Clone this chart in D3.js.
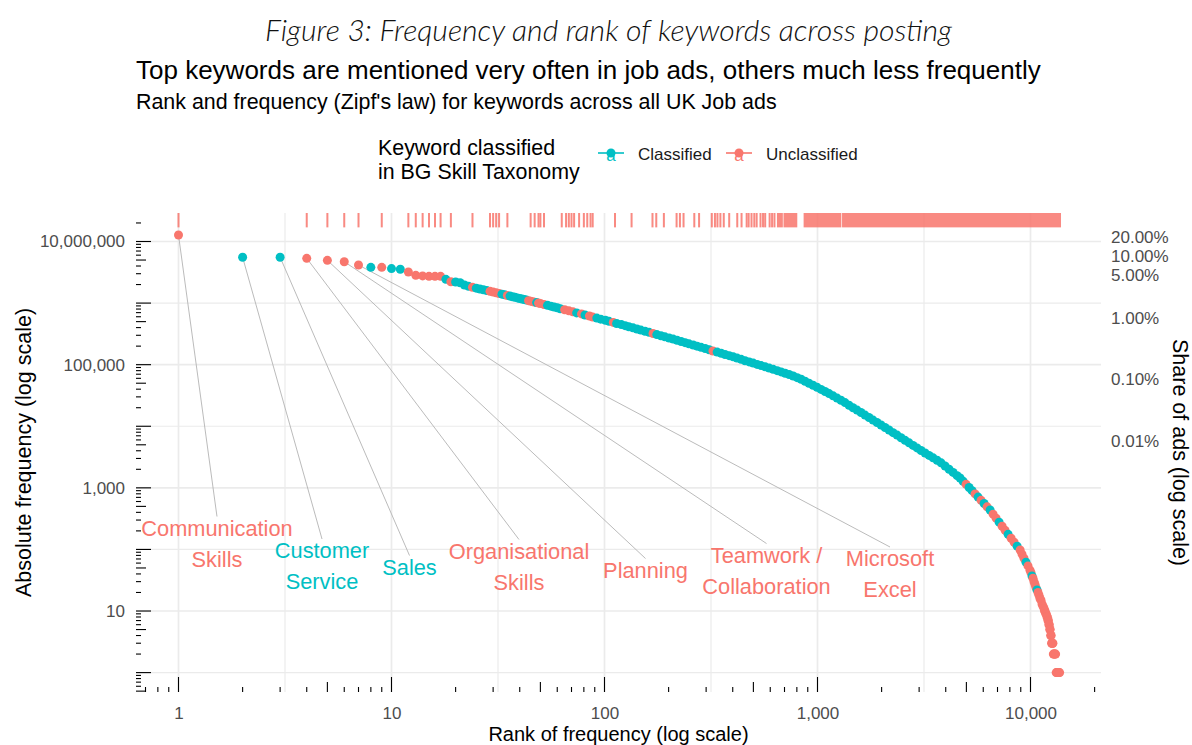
<!DOCTYPE html>
<html><head><meta charset="utf-8">
<script src="https://cdn.jsdelivr.net/npm/d3@7"></script>
<style>
body{margin:0;background:#fff;}
svg{display:block;font-family:"Liberation Sans",Arial,Helvetica,sans-serif;}
</style></head><body>
<svg id="chart" width="1192" height="745"></svg>
<script>
// ---------------- DATA ----------------
const ranks = [
 1,2,3,4,5,6,7,8,9,10,
 11,12,13,14,15,16,17,18,19,20,
 21,22,23,24,25,26,27,28,29,30,
 31,32,33,34,35,36,37,38,39,40,
 41,42,43,44,45,46,47,48,49,50,
 52,54,56,58,60,62,65,68,71,74,
 78,81,85,88,92,96,101,105,110,114,
 120,125,130,136,142,148,155,162,169,176,
 184,192,201,210,219,229,239,249,261,272,
 284,297,310,323,338,353,368,385,402,419,
 438,457,478,499,521,544,568,593,619,647,
 675,705,736,769,803,838,874,912,953,995,
 1039,1085,1133,1183,1235,1289,1346,1406,1468,1533,
 1600,1671,1745,1822,1903,1987,2075,2167,2263,2363,
 2467,2576,2690,2809,2933,3063,3199,3340,3488,3642,
 3803,3971,4147,4331,4522,4671,4825,4984,5149,5319,
 5494,5675,5862,6056,6256,6462,6675,6895,7123,7358,
 7600,7851,8110,8378,8654,8939,9122,9321,9525,9734,
 9946,10054,10163,10274,10386,10499,10613,10728,10845,10963,
 11080,11203,11325,11448,11572,11650,11700,11800,11850,11950,
 12000,12080,12130,12200,12250,12320,12370,12440,12500,12560,
 12620,12680,12740,12800,12880,12960,13040,13120,13200,13300,
 13400,13500,13600,13700
];
const freqs = [
 12750000,5540000,5540000,5330000,4950000,4700000,4150000,3810000,3810000,3630000,
 3540000,3200000,2820000,2760000,2720000,2720000,2720000,2430000,2220000,2200000,
 2140000,1970000,1870000,1806000,1748000,1694000,1644000,1596000,1551000,1509000,
 1469000,1431000,1395000,1361000,1329000,1298000,1269000,1241000,1214000,1189000,
 1165000,1141000,1118000,1096000,1076000,1056000,1036000,1018000,1000000,983000,
 950000,919000,891000,864000,839000,809000,779000,749000,721000,693000,
 667000,641000,617000,593000,570000,548000,526000,505000,485000,466000,
 447000,430000,412000,396000,380000,364000,349000,335000,321000,308000,
 295000,283000,271000,260000,249000,238000,228000,218000,209000,200000,
 191000,183000,175000,167000,160000,153000,146000,140000,134000,128000,
 122000,116000,111000,106000,101000,96700,92200,88000,83900,80000,
 76300,72700,69300,65400,61600,57900,53900,50000,46400,42900,
 39700,36600,33900,31200,28700,26400,24200,21900,20000,18300,
 16700,15200,13900,12600,11500,10500,9540,8690,7880,7180,
 6520,5910,5380,4890,4450,4040,3677,3361,3073,2809,
 2549,2261,2006,1780,1579,1444,1281,1141,1012,901,
 797,707,627,556,492,436,374,322,277,238,
 204,176,152,131,113,98,84,72,62,54,
 46,42,37,34,30,27,24,22,20,18,
 16,15,13,12,11,10,10,9,9,8,
 8,7,7,6,6,5,5,4,4,3,
 3,3,3,2,2,2,2,2,1,1,
 1,1,1,1
];
// C = classified in BG Skill Taxonomy, U = unclassified
const classes = (
 "UCCUUUUCUC"+"CUUUUUUCUC"+"CCCUCCCCUU"+"UUCCUCCCCC"+"CCCUUUUCUU"+
 "UCCCCCUUUC"+"UCUUCCCCUC"+"CCCCCCCCUC"+"CCCCCCCCCC"+"CCCUCCCCCC"+
 "CCCCCCCCCC"+"CCCCCCCCCC"+"CCCCCCCCCC"+"CCCCCCCCCC"+"CCCCCCCCCC"+
 "CCCCCCCUCC"+"UCUCUCUUCU"+"UCUUCUUUCU"+"UUCUUUUCUU"+"UUUUUUUUUU"+
 "UUUUUUUUUU"+"UUUUUUUUUU"+"UUUU").split("");

// ranks of unclassified keywords shown in the top rug
const rugRanks = [1,4,5,6,7,9,12,13,14,15,16,17,19,24,29,30,31,32,35,45,47,49,50,52,
 63,66,68,70,72,76,80,83,86,88,112,134,168,175,190,218,226,235,264,278,
 319,330,339,350,363,385,420,440,465,475,490,505,518,540,555,568,596,612,628];
const rugRuns = [[652,680],[700,795],[870,1280],[1318,13757]];

const totalAds = 58000000;
const shareTicks = [0.2,0.1,0.05,0.01,0.001,0.0001];
const yTickValues = [10,1e3,1e5,1e7];
const yMinorValues = [1,100,1e4,1e6];
const xTickValues = [1,10,100,1000,10000];
const xMinorValues = [3.162,31.62,316.2,3162];

const labelTexts = ["Communication\nSkills","Customer\nService","Sales","Organisational\nSkills",
 "Planning","Teamwork /\nCollaboration","Microsoft\nExcel"];
const labelRanks = [1,2,3,4,5,6,7];
const labelPosRank = [1.516,4.718,12.15,39.68,155.8,576.4,2190];
const labelPosFreq = [124.7,53.8,51.8,52.8,46.3,45.4,39.9];

const legendTitle = ["Keyword classified","in BG Skill Taxonomy"];
const legendClasses = ["C","U"];
const legendLabels = ["Classified","Unclassified"];

const titleText = "Figure 3: Frequency and rank of keywords across posting";
const subtitleText = "Top keywords are mentioned very often in job ads, others much less frequently";
const captionText = "Rank and frequency (Zipf's law) for keywords across all UK Job ads";
const xTitle = "Rank of frequency (log scale)";
const yTitle = "Absolute frequency (log scale)";
const y2Title = "Share of ads (log scale)";

// ---------------- LAYOUT ----------------
const colors = {C:"#00BFC4", U:"#F8766D"};
const P = {left:136, right:1101, top:213, bottom:692};
const svg = d3.select("#chart");

const x = d3.scaleLog().domain([1,10000]).range([178.5,1030.5]);
const y = d3.scaleLog().domain([1,1e7]).range([672.6,241.5]);
const yShare = d3.scaleLog().domain([1/totalAds, 1e7/totalAds]).range([672.6,241.5]);

const data = ranks.map((r,i)=>({rank:r, freq:freqs[i], cls:classes[i]}));

// ---------------- HEADER ----------------
function fit(sel, target){
  const w = sel.node().getComputedTextLength();
  const fs = parseFloat(sel.attr("font-size"));
  sel.attr("font-size", (fs*target/w).toFixed(2));
}
const t1 = svg.append("text").attr("x",608.5).attr("y",41).attr("text-anchor","middle")
  .attr("font-family","Lato, 'Open Sans', sans-serif").attr("font-style","italic").attr("font-weight",300)
  .attr("font-size",26).attr("fill","#111").text(titleText);
fit(t1,687);
const t2 = svg.append("text").attr("x",136).attr("y",79).attr("font-size",22).attr("fill","#000").text(subtitleText);
fit(t2,905);
const t3 = svg.append("text").attr("x",136).attr("y",109).attr("font-size",18).attr("fill","#000").text(captionText);
fit(t3,641);

// ---------------- LEGEND ----------------
const leg = svg.append("g");
legendTitle.forEach((s,i)=>leg.append("text").attr("x",378).attr("y",155+i*24)
  .attr("font-size",21.4).attr("fill","#000").text(s));
const keyCx = [611,739], keyTx=[638,766];
legendClasses.forEach((c,i)=>{
  const g = leg.append("g");
  g.append("line").attr("x1",keyCx[i]-13).attr("x2",keyCx[i]+13).attr("y1",153).attr("y2",153)
    .attr("stroke",colors[c]).attr("stroke-width",1.6);
  g.append("circle").attr("cx",keyCx[i]).attr("cy",153).attr("r",4.5).attr("fill",colors[c]);
  g.append("text").attr("x",keyCx[i]).attr("y",161).attr("text-anchor","middle")
    .attr("font-size",17).attr("fill",colors[c]).text("a");
  g.append("text").attr("x",keyTx[i]).attr("y",160).attr("font-size",17).attr("fill","#1a1a1a").text(legendLabels[i]);
});

// ---------------- GRID ----------------
const grid = svg.append("g");
grid.selectAll(".hmin").data(yMinorValues).join("line")
  .attr("x1",P.left).attr("x2",P.right).attr("y1",d=>y(d)).attr("y2",d=>y(d))
  .attr("stroke","#ebebeb").attr("stroke-width",1.2);
grid.selectAll(".vmin").data(xMinorValues).join("line")
  .attr("y1",P.top).attr("y2",P.bottom).attr("x1",d=>x(d)).attr("x2",d=>x(d))
  .attr("stroke","#ebebeb").attr("stroke-width",1.2);
grid.selectAll(".hmaj").data(yTickValues).join("line")
  .attr("x1",P.left).attr("x2",P.right).attr("y1",d=>y(d)).attr("y2",d=>y(d))
  .attr("stroke","#ebebeb").attr("stroke-width",1.7);
grid.selectAll(".vmaj").data(xTickValues).join("line")
  .attr("y1",P.top).attr("y2",P.bottom).attr("x1",d=>x(d)).attr("x2",d=>x(d))
  .attr("stroke","#ebebeb").attr("stroke-width",1.7);

// ---------------- LOG TICKS ----------------
function logTicks(kmin,kmax){
  const out=[];
  for(let k=kmin;k<=kmax;k++) for(let m=1;m<=9;m++) out.push({v:m*Math.pow(10,k), m});
  return out;
}
const tlen = m => m===1?15:(m===5?10:5);
const lt = svg.append("g").attr("stroke","#000").attr("stroke-width",1.1);
logTicks(-1,4).filter(d=>x(d.v)>=P.left && x(d.v)<=P.right).forEach(d=>{
  lt.append("line").attr("x1",x(d.v)).attr("x2",x(d.v)).attr("y1",P.bottom).attr("y2",P.bottom-tlen(d.m));
});
logTicks(-1,7).filter(d=>y(d.v)>=P.top && y(d.v)<=P.bottom).forEach(d=>{
  lt.append("line").attr("y1",y(d.v)).attr("y2",y(d.v)).attr("x1",P.left).attr("x2",P.left+tlen(d.m));
});

// ---------------- RUG ----------------
const rugLen = 0.03*(P.bottom-P.top);
const rug = svg.append("g").attr("fill","#F8766D").attr("stroke","#F8766D").attr("opacity",0.85);
rug.selectAll("line").data(rugRanks).join("line")
  .attr("x1",d=>x(d)).attr("x2",d=>x(d)).attr("y1",P.top).attr("y2",P.top+rugLen).attr("stroke-width",2);
rug.selectAll("rect").data(rugRuns).join("rect")
  .attr("x",d=>x(d[0])-1).attr("width",d=>x(d[1])-x(d[0])+2).attr("y",P.top).attr("height",rugLen).attr("stroke","none");

// ---------------- LABEL SEGMENTS + POINTS + LABELS ----------------
const segG = svg.append("g");
const ptG = svg.append("g");
const labG = svg.append("g");

ptG.selectAll("circle").data(data).join("circle")
  .attr("cx",d=>x(d.rank)).attr("cy",d=>y(d.freq)).attr("r",4.5)
  .attr("fill",d=>colors[d.cls]);

labelTexts.forEach((txt,i)=>{
  const p = data.find(d=>d.rank===labelRanks[i]);
  const lines = txt.split("\n");
  const cx = x(labelPosRank[i]), cy = y(labelPosFreq[i]);
  const t = labG.append("text").attr("text-anchor","middle").attr("font-size",21.8).attr("fill",colors[p.cls]);
  lines.forEach((ln,j)=>{
    t.append("tspan").attr("x",cx).attr("y",cy+(j-(lines.length-1)/2)*31+7.5).text(ln);
  });
  const bb = t.node().getBBox();
  segG.append("line").attr("x1",x(p.rank)).attr("y1",y(p.freq)).attr("x2",cx).attr("y2",bb.y+1)
    .attr("stroke","#b3b3b3").attr("stroke-width",0.9);
});

// ---------------- AXES ----------------
const axL = svg.append("g").attr("transform",`translate(${P.left},0)`)
  .call(d3.axisLeft(y).tickValues(yTickValues).tickFormat(d3.format(",")).tickSize(0).tickPadding(11));
const axB = svg.append("g").attr("transform",`translate(0,${P.bottom})`)
  .call(d3.axisBottom(x).tickValues(xTickValues).tickFormat(d3.format(",")).tickSize(0).tickPadding(14.5));
const axR = svg.append("g").attr("transform",`translate(${P.right},0)`)
  .call(d3.axisRight(yShare).tickValues(shareTicks).tickFormat(d3.format(".2%")).tickSize(0).tickPadding(10));
[axL,axB,axR].forEach(a=>{
  a.select(".domain").remove();
  a.attr("font-family",null).attr("font-size",null);
  a.selectAll("text").attr("font-size",17).attr("fill","#4d4d4d");
});

svg.append("text").attr("x",(P.left+P.right)/2).attr("y",740.6).attr("text-anchor","middle")
  .attr("font-size",20).attr("fill","#000").text(xTitle);
svg.append("text").attr("transform",`translate(31,${(P.top+P.bottom)/2}) rotate(-90)`).attr("text-anchor","middle")
  .attr("font-size",21.5).attr("fill","#000").text(yTitle);
svg.append("text").attr("transform",`translate(1173,${(P.top+P.bottom)/2}) rotate(90)`).attr("text-anchor","middle")
  .attr("font-size",21.5).attr("fill","#000").text(y2Title);
</script>
</body></html>
